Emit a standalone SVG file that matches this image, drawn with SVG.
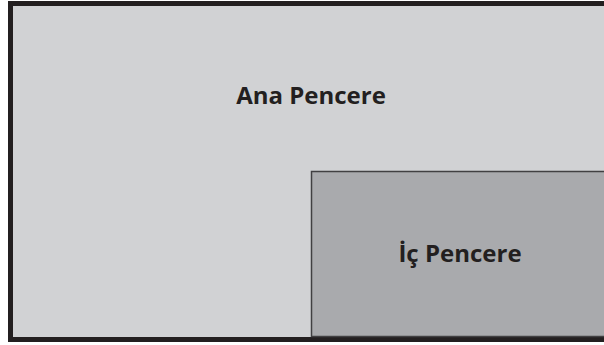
<svg xmlns="http://www.w3.org/2000/svg" width="604" height="345" viewBox="0 0 604 345">
<style>
.lbl{font-family:"Open Sans","Noto Sans","Liberation Sans",sans-serif;font-weight:bold;font-size:24px;fill:#231f20;text-anchor:middle}
</style>
<rect width="604" height="345" fill="#ffffff"/>
<g id="ana-pencere">
<rect x="10.5" y="3.5" width="600" height="336" fill="#d1d2d4" stroke="#231f20" stroke-width="5"/>
<text class="lbl" x="311" y="104">Ana Pencere</text>
</g>
<g id="ic-pencere">
<rect x="311.5" y="171.5" width="300" height="165" fill="#a9aaad" stroke="#414042" stroke-width="1.5"/>
<text class="lbl" x="460" y="262">İç Pencere</text>
</g>
<g id="connectors"/>
</svg>
